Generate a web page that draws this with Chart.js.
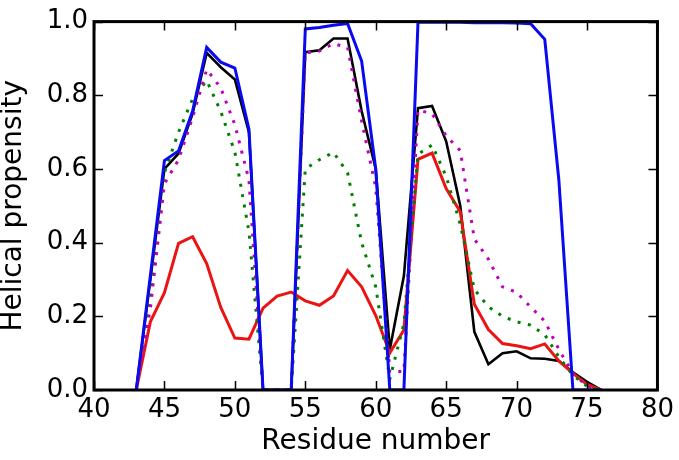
<!DOCTYPE html>
<html>
<head>
<meta charset="utf-8">
<script src="https://cdn.jsdelivr.net/npm/chart.js@4"></script>
<style>
  body { margin: 0; background: #fff; }
  #wrap { width: 679px; height: 460px; }
</style>
</head>
<body>
<div id="wrap"><canvas id="myChart" width="679" height="460"></canvas></div>
<script>
// residue numbers along x
const residues = [43, 44, 45, 46, 47, 48, 49, 50, 51, 52, 53, 54, 55, 56, 57, 58, 59,
  60, 61, 62, 63, 64, 65, 66, 67, 68, 69, 70, 71, 72, 73, 74, 75, 76];

// helical propensity per residue, one array per curve
const blueVals = [0, 0.31, 0.623, 0.649, 0.757, 0.93, 0.89, 0.874, 0.708, 0, 0, 0, 0.98, 0.984, 0.99, 0.995, 0.893,
  0.60, 0, 0, 0.998, 0.998, 0.998, 0.998, 0.997, 0.997, 0.997, 0.996, 0.994, 0.952, 0.57, 0, 0, 0];
const blackVals = [0, 0.30, 0.60, 0.642, 0.75, 0.915, 0.876, 0.843, 0.70, 0, 0, 0, 0.917, 0.922, 0.954, 0.954, 0.757,
  0.60, 0.11, 0.31, 0.765, 0.771, 0.675, 0.50, 0.158, 0.07, 0.10, 0.105, 0.086, 0.085, 0.079, 0.048, 0.022, 0];
const redVals = [0, 0.185, 0.264, 0.398, 0.416, 0.343, 0.224, 0.141, 0.138, 0.222, 0.255, 0.266, 0.242, 0.23, 0.255, 0.324, 0.28,
  0.202, 0.101, 0.163, 0.626, 0.643, 0.547, 0.484, 0.233, 0.164, 0.126, 0.12, 0.112, 0.125, 0.079, 0.045, 0.015, 0];
const greenVals = [0, 0.26, 0.59, 0.70, 0.79, 0.84, 0.756, 0.646, 0.43, 0, 0, 0, 0.60, 0.625, 0.645, 0.59, 0.40,
  0.28, 0.03, 0.18, 0.64, 0.665, 0.58, 0.45, 0.273, 0.226, 0.20, 0.185, 0.176, 0.15, 0.09, 0.04, 0.01, 0];
const magentaVals = [0, 0.22, 0.56, 0.625, 0.74, 0.87, 0.82, 0.72, 0.57, 0, 0, 0, 0.915, 0.92, 0.94, 0.93, 0.73,
  0.55, 0.05, 0.05, 0.76, 0.75, 0.69, 0.65, 0.41, 0.355, 0.28, 0.265, 0.225, 0.187, 0.11, 0.045, 0.01, 0];

const xTicks = [40, 45, 50, 55, 60, 65, 70, 75, 80];
const yTicks = [0, 0.2, 0.4, 0.6, 0.8, 1.0];

const FONT = "'DejaVu Sans', sans-serif";

function pts(vals) {
  return residues.map((r, i) => ({ x: r, y: vals[i] }));
}

// matplotlib style box with inward ticks on all four sides
const framePlugin = {
  id: 'frame',
  afterDatasetsDraw(chart) {
    const ctx = chart.ctx;
    const a = chart.chartArea;
    const xs = chart.scales.x, ys = chart.scales.y;
    ctx.save();
    ctx.strokeStyle = '#000';
    ctx.lineWidth = 1.5;
    ctx.beginPath();
    xTicks.forEach(v => {
      const px = Math.round(xs.getPixelForValue(v)) + 0.5;
      ctx.moveTo(px, a.bottom); ctx.lineTo(px, a.bottom - 9);
      ctx.moveTo(px, a.top); ctx.lineTo(px, a.top + 9);
    });
    yTicks.forEach(v => {
      const py = Math.round(ys.getPixelForValue(v)) + 0.5;
      ctx.moveTo(a.left, py); ctx.lineTo(a.left + 9, py);
      ctx.moveTo(a.right, py); ctx.lineTo(a.right - 9, py);
    });
    ctx.stroke();
    ctx.lineWidth = 3;
    ctx.strokeRect(a.left, a.top, a.right - a.left, a.bottom - a.top);
    ctx.restore();
  }
};

const ctx = document.getElementById('myChart');
const myChart = new Chart(ctx, {
  type: 'line',
  data: {
    datasets: [
      { data: pts(blueVals), borderColor: 'rgb(10,10,240)', borderWidth: 3, order: 0 },
      { data: pts(magentaVals), borderColor: 'rgb(191,0,191)', borderWidth: 3, borderDash: [3, 7.5], order: 1 },
      { data: pts(greenVals), borderColor: 'rgb(0,128,0)', borderWidth: 3, borderDash: [3, 7.5], order: 2 },
      { data: pts(redVals), borderColor: 'rgb(235,20,20)', borderWidth: 3, order: 3 },
      { data: pts(blackVals), borderColor: '#000', borderWidth: 2.6, order: 4 }
    ]
  },
  options: {
    responsive: false,
    animation: false,
    devicePixelRatio: 1,
    layout: { padding: { top: 11, right: 19, left: 0, bottom: 0 } },
    elements: { point: { radius: 0 }, line: { tension: 0, fill: false } },
    plugins: { legend: { display: false }, tooltip: { enabled: false } },
    scales: {
      x: {
        type: 'linear', min: 40, max: 80,
        afterBuildTicks: s => { s.ticks = xTicks.map(v => ({ value: v })); },
        afterFit: s => { s.height = 70; },
        grid: { display: false, drawTicks: false },
        border: { display: false },
        ticks: { color: '#000', font: { family: FONT, size: 26 }, padding: 5, maxRotation: 0 },
        title: { display: true, text: 'Residue number', color: '#000',
          font: { family: FONT, size: 28, lineHeight: 1 }, padding: { top: 0, bottom: 4 } }
      },
      y: {
        min: 0, max: 1,
        afterBuildTicks: s => { s.ticks = yTicks.map(v => ({ value: v })); },
        afterFit: s => { s.width = 94; },
        grid: { display: false, drawTicks: false },
        border: { display: false },
        ticks: { color: '#000', font: { family: FONT, size: 26 }, padding: 6,
          callback: v => v.toFixed(1) },
        title: { display: true, text: 'Helical propensity', color: '#000',
          font: { family: FONT, size: 28, lineHeight: 1 }, padding: { top: 0, bottom: 0 } }
      }
    }
  },
  plugins: [framePlugin]
});
</script>
</body>
</html>
